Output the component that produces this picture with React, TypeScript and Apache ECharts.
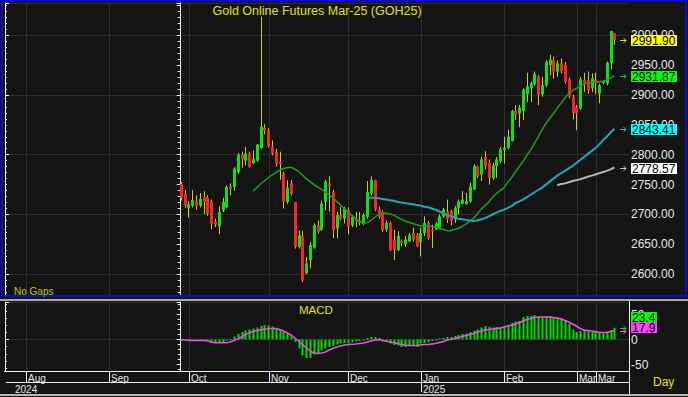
import React, { useEffect, useRef } from 'react';
import * as echarts from 'echarts';

// ---------- DATA ----------
// Daily candles of GOH25: [open, close, low, high], index 0 = first visible session
const ohlc: [number, number, number, number][] = [
  [2751, 2728, 2723, 2754], [2735, 2715, 2711, 2741], [2710, 2717, 2695, 2722], [2715, 2724, 2712, 2741],
  [2722, 2714, 2708, 2732], [2715, 2726, 2712, 2736], [2729, 2722, 2701, 2739], [2728, 2701, 2698, 2732],
  [2721, 2685, 2675, 2725], [2688, 2683, 2679, 2693], [2680, 2704, 2667, 2714], [2707, 2721, 2704, 2728],
  [2712, 2746, 2710, 2749], [2747, 2742, 2732, 2752], [2746, 2777, 2740, 2779], [2771, 2800, 2768, 2803],
  [2800, 2793, 2778, 2805], [2790, 2802, 2782, 2813], [2802, 2780, 2778, 2805], [2786, 2793, 2784, 2807],
  [2790, 2817, 2788, 2818], [2811, 2847, 2810, 3031], [2845, 2840, 2834, 2851], [2840, 2814, 2812, 2844],
  [2814, 2802, 2799, 2824], [2805, 2785, 2780, 2810], [2788, 2784, 2758, 2805], [2769, 2721, 2710, 2771],
  [2721, 2745, 2718, 2757], [2752, 2735, 2732, 2758], [2721, 2646, 2643, 2721], [2646, 2665, 2643, 2673],
  [2664, 2590, 2587, 2673], [2602, 2618, 2600, 2629], [2624, 2649, 2610, 2654], [2645, 2682, 2643, 2685],
  [2682, 2671, 2668, 2690], [2674, 2718, 2673, 2723], [2721, 2755, 2707, 2758], [2752, 2747, 2705, 2764],
  [2738, 2674, 2660, 2741], [2677, 2699, 2660, 2704], [2699, 2693, 2690, 2713], [2693, 2710, 2685, 2713],
  [2708, 2680, 2667, 2712], [2682, 2696, 2679, 2699], [2692, 2688, 2679, 2704], [2688, 2690, 2682, 2704],
  [2684, 2699, 2682, 2702], [2696, 2738, 2693, 2756], [2735, 2758, 2732, 2764], [2757, 2708, 2706, 2758],
  [2708, 2696, 2693, 2713], [2704, 2674, 2671, 2707], [2675, 2686, 2671, 2690], [2686, 2640, 2639, 2688],
  [2657, 2641, 2624, 2674], [2641, 2664, 2639, 2672], [2656, 2652, 2647, 2658], [2650, 2658, 2646, 2664],
  [2655, 2666, 2654, 2669], [2669, 2658, 2655, 2678], [2666, 2647, 2646, 2669], [2654, 2669, 2630, 2678],
  [2669, 2686, 2664, 2697], [2686, 2661, 2658, 2689], [2675, 2672, 2644, 2683], [2675, 2685, 2674, 2687],
  [2678, 2697, 2675, 2700], [2697, 2708, 2694, 2711], [2705, 2692, 2686, 2725], [2705, 2689, 2682, 2708],
  [2692, 2711, 2686, 2714], [2711, 2722, 2700, 2725], [2718, 2725, 2717, 2739], [2717, 2722, 2717, 2736],
  [2722, 2747, 2719, 2753], [2742, 2781, 2741, 2784], [2780, 2764, 2761, 2782], [2767, 2792, 2756, 2797],
  [2796, 2781, 2776, 2806], [2786, 2761, 2750, 2792], [2761, 2782, 2758, 2786], [2781, 2792, 2761, 2796],
  [2789, 2809, 2786, 2813], [2808, 2812, 2785, 2830], [2811, 2830, 2809, 2842], [2823, 2873, 2822, 2875],
  [2873, 2866, 2858, 2883], [2869, 2879, 2846, 2883], [2873, 2909, 2858, 2911], [2901, 2914, 2888, 2937],
  [2911, 2919, 2888, 2922], [2918, 2935, 2915, 2939], [2931, 2901, 2883, 2933], [2901, 2916, 2897, 2930],
  [2916, 2955, 2913, 2958], [2950, 2959, 2933, 2967], [2958, 2939, 2927, 2964], [2939, 2953, 2930, 2958],
  [2953, 2939, 2936, 2961], [2950, 2922, 2919, 2955], [2926, 2897, 2894, 2929], [2897, 2870, 2859, 2900],
  [2880, 2869, 2841, 2883], [2877, 2926, 2875, 2930], [2925, 2920, 2905, 2937], [2925, 2908, 2902, 2939],
  [2911, 2928, 2905, 2936], [2925, 2919, 2902, 2937], [2902, 2916, 2886, 2919], [2920, 2922, 2918, 2925],
  [2919, 2954, 2916, 2956], [2953, 3007, 2943, 3007], [3003, 2991.9, 2984, 3004],
];

// Moving averages as drawn (first index where each line starts)
const ma20Start = 19;
const ma20 = [
  2739, 2745, 2751, 2756, 2761, 2766, 2770, 2774, 2777, 2778,
  2779, 2776, 2772, 2766, 2760, 2755, 2750, 2746, 2742, 2738,
  2733, 2728, 2722, 2716, 2710, 2704, 2698, 2693, 2688, 2685,
  2686, 2690, 2695, 2700, 2702, 2702, 2701, 2699, 2695, 2692,
  2689, 2687, 2685, 2683, 2681, 2681, 2681, 2680, 2679, 2677,
  2675, 2673, 2673, 2675, 2677, 2680, 2684, 2689, 2694, 2701,
  2709, 2715, 2721, 2729, 2735, 2740, 2745, 2754, 2762, 2771,
  2780, 2789, 2799, 2808, 2819, 2830, 2842, 2852, 2861, 2869,
  2878, 2886, 2895, 2902, 2907, 2911, 2914, 2918, 2920, 2921,
  2922, 2922, 2923, 2925, 2928, 2931.87,
];
const ma50Start = 49;
const ma50 = [
  2729, 2728, 2728, 2727, 2726, 2725, 2724, 2723, 2721, 2720,
  2719, 2718, 2717, 2716, 2715, 2713, 2712, 2710, 2708, 2705,
  2702, 2699, 2697, 2695, 2693, 2692, 2691, 2690, 2689, 2690,
  2692, 2694, 2697, 2700, 2703, 2706, 2708, 2711, 2714, 2719,
  2722, 2725, 2729, 2733, 2737, 2741, 2745, 2750, 2755, 2760,
  2765, 2769, 2773, 2777, 2781, 2786, 2791, 2796, 2801, 2806,
  2811, 2817, 2824, 2830, 2837, 2843.41,
];
const ma100Start = 99;
const ma100 = [
  2749, 2751, 2752, 2754, 2756, 2757.5, 2759, 2761, 2763, 2765,
  2767, 2769, 2771, 2773, 2775.5, 2778.57,
];

// MACD histogram (green bars) and signal (magenta line)
const macdHist = [
  0, -0.7, -1.3, -0.7, -2, -1.3, -1.3, -2, -5, -6.7,
  -6, -5, -2, 1, 6, 11, 15, 18, 20, 22,
  24, 27, 29, 28, 26, 23, 19, 15, 11, 6,
  -5, -18, -32, -37, -37, -30, -27, -22, -18, -15,
  -13, -10, -8, -7, -7, -5, -4, -3, -1, 3,
  5, 5, 3, -4, -5, -8, -11, -12,
  -15, -15, -12, -12, -15, -8, -7, -5, -3, -1,
  2, 3, 5, 5, 7, 9, 11, 12, 15, 17,
  20, 24, 27, 25, 24, 25, 25, 27, 29, 33,
  36, 37, 45, 47, 47, 49, 45, 44, 45, 47,
  44, 44, 42, 37, 31, 20, 15, 17, 19, 17,
  15, 15, 13, 12, 15, 19, 23.4,
];
const macdSignal = [
  0, -1, -1.5, -2, -2, -2, -2, -2.5, -5, -6.5,
  -6.7, -6.7, -6.5, -5, -2, 1, 5, 10, 13, 16,
  18, 19.5, 20.5, 21.5, 22, 22, 20, 17, 13, 9,
  3, -3, -10, -17, -23, -27, -28, -27, -25, -21,
  -18, -15, -13, -11, -10, -9.5, -9, -8, -7, -5,
  -3, -1, -0.5, -1.5, -3.5, -5, -6.5, -8,
  -10, -11, -12, -12, -12, -11, -10, -10, -9, -8,
  -6, -4, -1, 0, 2, 4, 6, 8, 10, 12,
  15, 17, 19, 20, 21, 22, 23, 25, 27, 29,
  31, 34, 37, 40, 42, 44, 45, 45, 45, 45,
  44, 43, 41, 38, 35, 31, 27, 22, 19, 18,
  17, 16, 14, 14, 14, 16, 17.9,
];

// Time axis (positions expressed in session index units)
const monthLabels = ['Aug', 'Sep', 'Oct', 'Nov', 'Dec', 'Jan', 'Feb', 'Mar', 'Mar'];
const monthPos = [-40.75, -18.93, 2.1, 23.13, 43.96, 63.06, 85.09, 104.05, 109.1];
const yearLabels = ['2024', '2025'];
const yearPos = [-44.2, 63.06];

// Highest price label shown on the right axis
const priceLabelMax = 3000;

const titleText = 'Gold Online Futures Mar-25 (GOH25)';

// ---------- STYLE ----------
const BG = '#141414';
const GRID = '#2e2e2e';
const AXIS = '#f0f0f0';
const LABEL = '#e6e6e6';
const YELLOW = '#e4e400';
const BLUE = '#0c0cc8';
const UP = '#10e010';
const DOWN = '#f02828';
const WICK = '#d6c81c';
const MA20_C = '#1aa01a';
const MA50_C = '#1fa8b8';
const MA100_C = '#b4b4b4';
const HIST_C = '#00dc00';
const SIG_C = '#f04cf0';
const FONT = '"Liberation Sans", Arial, sans-serif';

const X_MIN = -46.19;
const X_MAX = 117.85;
const P_MIN = 2563.7;
const P_MAX = 3053.7;
const M_MIN = -63;
const M_MAX = 75;

function buildOption(): any {
  const xAxes = [0, 1, 2].map((g) => ({ type: 'value', gridIndex: g, min: X_MIN, max: X_MAX, show: false }));
  const gridSeries = (xi: number, yi: number, yv: number) => ({
    type: 'custom',
    xAxisIndex: xi,
    yAxisIndex: yi,
    z: 1,
    silent: true,
    data: monthPos.map((p) => [p, yv]),
    renderItem: (params: any, api: any) => {
      const cs = params.coordSys;
      const x = Math.round(api.coord([api.value(0), api.value(1)])[0]) + 0.5;
      return {
        type: 'line',
        shape: { x1: x, y1: cs.y, x2: x, y2: cs.y + cs.height },
        style: { stroke: GRID, lineWidth: 1 },
      };
    },
  });

  return {
    animation: false,
    backgroundColor: BG,
    grid: [
      { left: 5, top: 3, width: 624, height: 293 },
      { left: 5, top: 302, width: 624, height: 69 },
      { left: 5, top: 371, width: 624, height: 21 },
    ],
    xAxis: xAxes,
    yAxis: [
      {
        type: 'value', gridIndex: 0, position: 'right', min: P_MIN, max: P_MAX, splitNumber: 10,
        axisLine: { show: true, lineStyle: { color: AXIS, width: 1 } },
        axisTick: { show: true, inside: true, length: 4, lineStyle: { color: AXIS } },
        minorTick: { show: true, splitNumber: 5, length: 3, lineStyle: { color: AXIS } },
        axisLabel: {
          show: true, margin: 2, color: LABEL, fontSize: 12, fontFamily: FONT,
          showMinLabel: false, showMaxLabel: false,
          formatter: (v: number) => (v > priceLabelMax ? '' : v.toFixed(2)),
        },
        splitLine: { show: false },
      },
      {
        type: 'value', gridIndex: 0, position: 'left', min: P_MIN, max: P_MAX, splitNumber: 5,
        axisLine: { show: true, lineStyle: { color: AXIS, width: 1 } },
        axisTick: { show: true, inside: true, length: 4, lineStyle: { color: AXIS } },
        minorTick: { show: true, splitNumber: 10, length: 2, lineStyle: { color: AXIS } },
        axisLabel: { show: false },
        splitLine: { show: true, lineStyle: { color: GRID, width: 1 } },
      },
      {
        type: 'value', gridIndex: 1, position: 'right', min: M_MIN, max: M_MAX, splitNumber: 3,
        axisLine: { show: true, lineStyle: { color: AXIS, width: 1 } },
        axisTick: { show: true, inside: true, length: 4, lineStyle: { color: AXIS } },
        minorTick: { show: true, splitNumber: 5, length: 3, lineStyle: { color: AXIS } },
        axisLabel: {
          show: true, margin: 2, color: LABEL, fontSize: 12, fontFamily: FONT,
          showMinLabel: false, showMaxLabel: false,
          formatter: (v: number) => String(v),
        },
        splitLine: { show: false },
      },
      {
        type: 'value', gridIndex: 1, position: 'left', min: M_MIN, max: M_MAX, splitNumber: 1,
        axisLine: { show: true, lineStyle: { color: AXIS, width: 1 } },
        axisTick: { show: true, inside: true, length: 4, lineStyle: { color: AXIS } },
        minorTick: { show: true, splitNumber: 7, length: 2, lineStyle: { color: AXIS } },
        axisLabel: { show: false },
        splitLine: { show: true, lineStyle: { color: GRID, width: 1 } },
      },
      { type: 'value', gridIndex: 2, min: 0, max: 1, show: false },
    ],
    series: [
      gridSeries(0, 0, P_MIN),
      {
        type: 'custom',
        name: 'GOH25',
        xAxisIndex: 0,
        yAxisIndex: 0,
        z: 3,
        silent: true,
        data: ohlc.map((d, i) => [i, d[0], d[1], d[2], d[3]]),
        encode: { x: 0, y: [1, 2, 3, 4] },
        renderItem: (params: any, api: any) => {
          const i = api.value(0);
          const o = api.value(1);
          const c = api.value(2);
          const l = api.value(3);
          const h = api.value(4);
          const pO = api.coord([i, o]);
          const pC = api.coord([i, c]);
          const pL = api.coord([i, l]);
          const pH = api.coord([i, h]);
          const x = Math.round(pO[0]);
          const top = Math.min(pO[1], pC[1]);
          const bot = Math.max(pO[1], pC[1]);
          return {
            type: 'group',
            children: [
              { type: 'line', shape: { x1: x + 0.5, y1: pH[1], x2: x + 0.5, y2: pL[1] }, style: { stroke: WICK, lineWidth: 1 } },
              { type: 'rect', shape: { x: x - 1, y: top, width: 3, height: Math.max(1, bot - top) }, style: { fill: c >= o ? UP : DOWN } },
            ],
          };
        },
      },
      {
        type: 'line', name: 'MA20', xAxisIndex: 0, yAxisIndex: 0, z: 4, silent: true,
        data: ma20.map((v, k) => [k + ma20Start, v]), showSymbol: false, symbol: 'none',
        lineStyle: { color: MA20_C, width: 1.5 },
      },
      {
        type: 'line', name: 'MA50', xAxisIndex: 0, yAxisIndex: 0, z: 4, silent: true,
        data: ma50.map((v, k) => [k + ma50Start, v]), showSymbol: false, symbol: 'none',
        lineStyle: { color: MA50_C, width: 2 },
      },
      {
        type: 'line', name: 'MA100', xAxisIndex: 0, yAxisIndex: 0, z: 4, silent: true,
        data: ma100.map((v, k) => [k + ma100Start, v]), showSymbol: false, symbol: 'none',
        lineStyle: { color: MA100_C, width: 2 },
      },
      gridSeries(1, 2, 0),
      {
        type: 'custom', name: 'MACD', xAxisIndex: 1, yAxisIndex: 2, z: 3, silent: true,
        data: macdHist.map((v, i) => [i, v]),
        renderItem: (params: any, api: any) => {
          const i = api.value(0);
          const v = api.value(1);
          const p0 = api.coord([i, 0]);
          const p1 = api.coord([i, v]);
          const x = Math.round(p0[0]);
          const top = Math.min(p0[1], p1[1]);
          return {
            type: 'rect',
            shape: { x: x - 0.5, y: top, width: 2, height: Math.max(1, Math.abs(p1[1] - p0[1])) },
            style: { fill: HIST_C },
          };
        },
      },
      {
        type: 'line', name: 'Signal', xAxisIndex: 1, yAxisIndex: 2, z: 4, silent: true,
        data: macdSignal.map((v, i) => [i, v]), showSymbol: false, symbol: 'none',
        lineStyle: { color: SIG_C, width: 1.5 },
      },
      {
        type: 'custom', xAxisIndex: 2, yAxisIndex: 4, z: 3, silent: true,
        data: monthPos.map((p, k) => [p, 0, k]),
        renderItem: (params: any, api: any) => {
          const cs = params.coordSys;
          const k = api.value(2);
          const x = Math.round(api.coord([api.value(0), 0])[0]) + 0.5;
          return {
            type: 'group',
            children: [
              { type: 'line', shape: { x1: x, y1: cs.y, x2: x, y2: cs.y + 11 }, style: { stroke: AXIS, lineWidth: 1 } },
              {
                type: 'text', x: x + 1.5, y: cs.y + 2,
                style: { text: monthLabels[k], fill: LABEL, fontSize: 10, fontFamily: FONT, verticalAlign: 'top' },
              },
            ],
          };
        },
      },
      {
        type: 'custom', xAxisIndex: 2, yAxisIndex: 4, z: 3, silent: true,
        data: yearPos.map((p, k) => [p, 0, k]),
        renderItem: (params: any, api: any) => {
          const cs = params.coordSys;
          const k = api.value(2);
          const x = Math.round(api.coord([api.value(0), 0])[0]) + 0.5;
          const children: any[] = [
            {
              type: 'text', x: x + 1.5, y: cs.y + 13,
              style: { text: yearLabels[k], fill: LABEL, fontSize: 10, fontFamily: FONT, verticalAlign: 'top' },
            },
          ];
          if (k > 0) {
            children.push({ type: 'line', shape: { x1: x, y1: cs.y + 11, x2: x, y2: cs.y + cs.height }, style: { stroke: AXIS, lineWidth: 1 } });
          }
          return { type: 'group', children };
        },
      },
    ],
  };
}

function txt(text: string, x: number, y: number, fill: string, size: number, align = 'left', vAlign = 'middle') {
  return {
    type: 'text', x, y, z: 100, silent: true,
    style: { text, fill, fontSize: size, fontFamily: FONT, align, verticalAlign: vAlign },
  };
}
function ln(x1: number, y1: number, x2: number, y2: number, stroke: string, w = 1) {
  return { type: 'line', z: 100, silent: true, shape: { x1, y1, x2, y2 }, style: { stroke, lineWidth: w } };
}
function arrow(y: number, color: string) {
  const yy = Math.round(y) + 0.5;
  return [
    ln(620, yy, 626, yy, color),
    { type: 'polyline', z: 100, silent: true, shape: { points: [[623.5, yy - 2.5], [626, yy], [623.5, yy + 2.5]] }, style: { stroke: color, fill: 'none', lineWidth: 1 } },
  ];
}
function box(text: string, x: number, cy: number, w: number, bg: string) {
  return [
    { type: 'rect', z: 100, silent: true, shape: { x, y: Math.round(cy) - 5, width: w, height: 11 }, style: { fill: bg } },
    txt(text, x + 1, Math.round(cy) + 0.5, '#000000', 12),
  ];
}

function buildGraphic(yMain: (v: number) => number, yMacd: (v: number) => number): any[] {
  const last = ohlc[ohlc.length - 1][1];
  const m20 = ma20[ma20.length - 1];
  const m50 = ma50[ma50.length - 1];
  const m100 = ma100[ma100.length - 1];
  const h = macdHist[macdHist.length - 1];
  const s = macdSignal[macdSignal.length - 1];
  const yS = yMacd(s);
  const cS = yS - 3.3;
  const cH = Math.min(yMacd(h), cS - 10.5);
  return [
    { type: 'rect', z: 100, silent: true, shape: { x: 2, y: 1, width: 684, height: 295 }, style: { fill: 'none', stroke: BLUE, lineWidth: 2 } },
    ln(0, 300, 688, 300, '#a8a8a8', 2),
    ln(629.5, 301, 629.5, 394, AXIS),
    ln(4, 371.5, 630, 371.5, AXIS),
    ln(6, 382.5, 630, 382.5, AXIS),
    ln(0, 395, 688, 395, '#b8b8b8', 2),
    txt(titleText, 317, 11, YELLOW, 12.5, 'center'),
    txt('No Gaps', 14, 291, '#c4c400', 10),
    txt('MACD', 299, 310, YELLOW, 11.5),
    txt('Day', 653, 382, YELLOW, 12),
    ...arrow(yMain(last), YELLOW),
    ...arrow(yMain(m20), '#20c020'),
    ...arrow(yMain(m50), '#20c0d0'),
    ...arrow(yMain(m100), '#c8c8c8'),
    ...box(last.toFixed(2), 631, yMain(last), 46, '#ffff00'),
    ...box(m20.toFixed(2), 631, yMain(m20), 46, '#00ff00'),
    ...box(m50.toFixed(2), 631, yMain(m50), 46, '#00ffff'),
    ...box(m100.toFixed(2), 631, yMain(m100), 46, '#ffffff'),
    ...arrow(yMacd(h), '#10d010'),
    ...arrow(yMacd(s), SIG_C),
    ...box(h.toFixed(1), 631, cH, 26, '#00ff00'),
    ...box(s.toFixed(1), 631, cS, 26, '#ff44ff'),
  ];
}

export default function App() {
  const ref = useRef<HTMLDivElement>(null);
  useEffect(() => {
    const el = ref.current;
    if (!el) return;
    const chart = echarts.init(el, undefined, { renderer: 'svg' });
    chart.setOption(buildOption());
    const yMain = (v: number) => chart.convertToPixel({ yAxisIndex: 0 } as any, v) as unknown as number;
    const yMacd = (v: number) => chart.convertToPixel({ yAxisIndex: 2 } as any, v) as unknown as number;
    chart.setOption({ graphic: buildGraphic(yMain, yMacd) });
    return () => chart.dispose();
  }, []);
  return (
    <div
      ref={ref}
      style={{ position: 'fixed', left: 0, top: 0, width: 688, height: 397, background: BG }}
    />
  );
}
